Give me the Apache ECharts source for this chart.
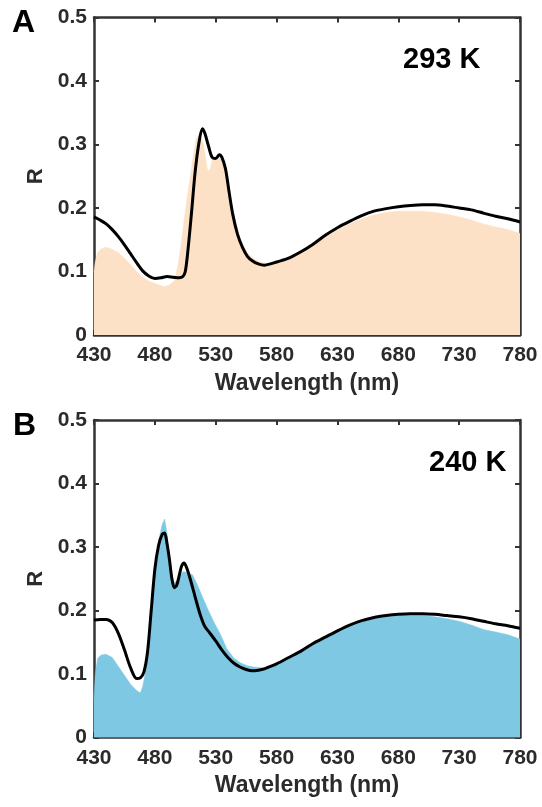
<!DOCTYPE html>
<html>
<head>
<meta charset="utf-8">
<script src="https://cdn.jsdelivr.net/npm/echarts@6/dist/echarts.min.js"></script>
<style>
html,body{margin:0;padding:0;background:#fff;}
#chart{width:542px;height:807px;}
</style>
</head>
<body>
<div id="chart"></div>
<script>
// ---- Data ----
const xTicks = [430, 480, 530, 580, 630, 680, 730, 780];
const yTicks = [0, 0.1, 0.2, 0.3, 0.4, 0.5];
const panelLetters = ['A', 'B'];
const panelTemps = ['293 K', '240 K'];

// Panel A (293 K) – black measured line
const wlLineA = [430,435,440,445,450,455,460,465,470,475,480,485,490,495,500,503,505,507,510,513,516,519,521,524,527,530,533,535,538,541,544,548,552,556,560,565,570,575,580,590,600,610,620,630,640,650,660,670,680,690,700,710,720,730,740,750,760,770,780];
const rLineA  = [0.186,0.181,0.175,0.166,0.155,0.142,0.128,0.114,0.101,0.093,0.089,0.090,0.092,0.091,0.090,0.092,0.100,0.130,0.190,0.255,0.300,0.325,0.318,0.298,0.280,0.278,0.284,0.280,0.262,0.225,0.190,0.158,0.138,0.124,0.117,0.112,0.110,0.112,0.115,0.121,0.131,0.143,0.157,0.169,0.179,0.188,0.195,0.199,0.202,0.204,0.205,0.205,0.203,0.200,0.197,0.192,0.187,0.183,0.178];
// Panel A – filled (peach) spectrum
const wlFillA = [430,431,433,436,440,445,450,455,460,465,470,475,480,485,488,492,496,499,502,505,508,511,514,517,520,523,525,527,530,533,536,540,544,548,552,556,560,565,570,575,580,590,600,610,620,630,640,650,660,670,680,690,700,710,720,730,740,750,760,770,780];
const rFillA  = [0.100,0.115,0.130,0.136,0.138,0.135,0.130,0.121,0.111,0.100,0.091,0.085,0.081,0.078,0.076,0.079,0.085,0.110,0.150,0.195,0.235,0.275,0.310,0.316,0.300,0.262,0.258,0.274,0.282,0.280,0.270,0.240,0.200,0.165,0.142,0.130,0.122,0.116,0.113,0.112,0.113,0.119,0.129,0.141,0.154,0.165,0.175,0.183,0.189,0.193,0.195,0.195,0.195,0.193,0.190,0.186,0.181,0.175,0.170,0.166,0.160];

// Panel B (240 K) – black measured line
const wlLineB = [430,435,440,445,450,455,460,465,468,471,474,477,480,483,486,488,490,492,494,496,498,500,502,504,506,509,513,517,521,525,530,535,540,545,550,555,560,565,570,575,580,590,600,610,620,630,640,650,660,670,680,690,700,710,720,730,740,750,760,770,780];
const rLineB  = [0.185,0.186,0.186,0.181,0.164,0.138,0.110,0.093,0.094,0.103,0.135,0.200,0.265,0.302,0.320,0.322,0.305,0.280,0.250,0.236,0.240,0.255,0.270,0.275,0.268,0.250,0.222,0.195,0.175,0.165,0.152,0.138,0.126,0.117,0.111,0.107,0.105,0.106,0.108,0.112,0.116,0.126,0.136,0.148,0.158,0.168,0.177,0.184,0.189,0.192,0.194,0.195,0.195,0.194,0.192,0.190,0.187,0.183,0.179,0.176,0.172];
// Panel B – filled (blue) spectrum
const wlFillB = [430,431,433,436,440,445,450,455,460,465,468,470,472,474,476,478,480,483,486,488,490,492,494,496,499,503,507,511,515,519,524,529,534,539,545,551,556,561,566,570,575,580,590,600,610,620,630,640,650,660,670,680,690,700,710,720,730,740,750,760,770,780];
const rFillB  = [0.060,0.100,0.125,0.130,0.131,0.126,0.112,0.098,0.084,0.074,0.070,0.080,0.100,0.140,0.185,0.225,0.270,0.310,0.335,0.344,0.322,0.285,0.255,0.243,0.250,0.261,0.260,0.256,0.240,0.222,0.200,0.180,0.162,0.140,0.125,0.117,0.113,0.111,0.110,0.110,0.112,0.115,0.124,0.134,0.146,0.156,0.166,0.175,0.182,0.187,0.190,0.192,0.192,0.192,0.190,0.187,0.183,0.177,0.170,0.166,0.162,0.155];

// ---- Chart ----
const FONT = "'Liberation Sans', Arial, sans-serif";
const AXIS_COLOR = '#333333';
const TEXT_COLOR = '#2b2b2b';
const pairs = (xs, ys) => xs.map((x, i) => [x, ys[i]]);

const grids = [
  {left: 94, top: 17.5, width: 426, height: 317.5},
  {left: 94, top: 420, width: 426, height: 317.5}
];

const xAxes = [], yAxes = [];
grids.forEach((g, gi) => {
  const common = {
    type: 'value', gridIndex: gi, min: xTicks[0], max: xTicks[xTicks.length - 1],
    interval: xTicks[1] - xTicks[0],
    axisLine: {show: true, onZero: false, lineStyle: {color: AXIS_COLOR, width: 2.5}},
    axisTick: {show: true, inside: true, length: 5, lineStyle: {color: AXIS_COLOR, width: 2}},
    splitLine: {show: false}
  };
  xAxes.push(Object.assign({}, common, {
    position: 'bottom',
    axisLabel: {show: true, color: TEXT_COLOR, fontFamily: FONT, fontWeight: 'bold', fontSize: 21, margin: 10},
    name: 'Wavelength (nm)', nameLocation: 'middle', nameGap: 37,
    nameTextStyle: {color: TEXT_COLOR, fontFamily: FONT, fontWeight: 'bold', fontSize: 23}
  }));
  xAxes.push(Object.assign({}, common, {position: 'top', axisLabel: {show: false}}));
  const ycommon = {
    type: 'value', gridIndex: gi, min: yTicks[0], max: yTicks[yTicks.length - 1],
    interval: yTicks[1] - yTicks[0],
    axisLine: {show: true, onZero: false, lineStyle: {color: AXIS_COLOR, width: 2.5}},
    axisTick: {show: true, inside: true, length: 5, lineStyle: {color: AXIS_COLOR, width: 2}},
    splitLine: {show: false}
  };
  yAxes.push(Object.assign({}, ycommon, {
    position: 'left',
    axisLabel: {show: true, color: TEXT_COLOR, fontFamily: FONT, fontWeight: 'bold', fontSize: 21, margin: 7},
    name: 'R', nameLocation: 'middle', nameGap: 43,
    nameTextStyle: {color: TEXT_COLOR, fontFamily: FONT, fontWeight: 'bold', fontSize: 22}
  }));
  yAxes.push(Object.assign({}, ycommon, {position: 'right', axisLabel: {show: false}}));
});

const fillSeries = (data, color, gi) => ({
  type: 'line', xAxisIndex: gi * 2, yAxisIndex: gi * 2, data,
  showSymbol: false, silent: true, smooth: false,
  lineStyle: {width: 0.5, color}, areaStyle: {color, opacity: 1}, z: 1
});
const lineSeries = (data, gi) => ({
  type: 'line', xAxisIndex: gi * 2, yAxisIndex: gi * 2, data,
  showSymbol: false, silent: true, smooth: 0.3,
  lineStyle: {width: 3, color: '#000'}, z: 3
});

const chart = echarts.init(document.getElementById('chart'), null, {renderer: 'canvas'});
chart.setOption({
  animation: false,
  backgroundColor: '#ffffff',
  grid: grids,
  xAxis: xAxes,
  yAxis: yAxes,
  series: [
    fillSeries(pairs(wlFillA, rFillA), '#FDE1C6', 0),
    lineSeries(pairs(wlLineA, rLineA), 0),
    fillSeries(pairs(wlFillB, rFillB), '#7EC8E3', 1),
    lineSeries(pairs(wlLineB, rLineB), 1)
  ],
  graphic: [
    {type: 'text', left: 12, top: 7, style: {text: panelLetters[0], font: `bold 32px ${FONT}`, fill: '#000'}},
    {type: 'text', left: 13, top: 410, style: {text: panelLetters[1], font: `bold 32px ${FONT}`, fill: '#000'}},
    {type: 'text', left: 403, top: 45, style: {text: panelTemps[0], font: `bold 29px ${FONT}`, fill: '#000'}},
    {type: 'text', left: 429, top: 448, style: {text: panelTemps[1], font: `bold 29px ${FONT}`, fill: '#000'}}
  ]
});
</script>
</body>
</html>
